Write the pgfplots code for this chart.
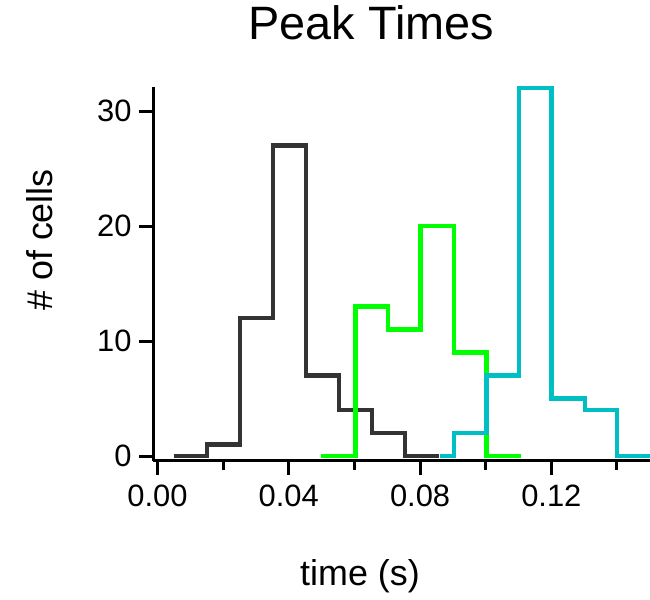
\documentclass[border=0pt]{standalone}
\usepackage{pgfplots}
\pgfplotsset{compat=1.18}
\usepackage{fontspec}
\setmainfont{Liberation Sans}
\definecolor{cdark}{HTML}{333333}
\definecolor{cgreen}{HTML}{00FF00}
\definecolor{ccyan}{HTML}{00BFC4}

\begin{document}
\begin{tikzpicture}[x=1bp,y=1bp]
\useasboundingbox (0,0) rectangle (650,600);
\begin{axis}[
    at={(153bp,139bp)}, anchor=south west,
    scale only axis, width=497bp, height=374bp,
    xmin=-0.00137, xmax=0.15006, ymin=-0.43, ymax=32.1,
    axis lines=left, axis line style={-, line width=3bp, black},
    xtick={0,0.04,0.08,0.12}, xticklabels={0.00,0.04,0.08,0.12},
    minor xtick={0.02,0.06,0.10,0.14},
    ytick={0,10,20,30},
    tick align=outside, major tick length=14bp, minor tick length=9bp,
    every tick/.style={black, line width=3bp},
    /pgf/number format/assume math mode=true,
    tick label style={font=\fontsize{31}{36}\selectfont},
    xticklabel style={yshift=-6bp},
    yticklabel style={xshift=-4bp},
    title={Peak Times},
    title style={font=\fontsize{47}{54}\selectfont, at={(rel axis cs:0.439,1.112)}, anchor=base},
    xlabel={time (s)},
    xlabel style={font=\fontsize{36}{42}\selectfont, at={(rel axis cs:0.4165,-0.3316)}, anchor=base},
    ylabel={\# of cells},
    ylabel style={font=\fontsize{36}{42}\selectfont, at={(rel axis cs:-0.2032,0.591)}, anchor=base},
    clip=false]
  % black histogram
  \addplot[const plot, cdark, line width=4.5bp, no marks] coordinates {
    (0.0050,0) (0.0151,1) (0.0252,12) (0.0352,27) (0.0453,7) (0.0553,4)
    (0.0653,2) (0.0754,0) (0.0858,0)};
  % green histogram
  \addplot[const plot, cgreen, line width=4.5bp, no marks] coordinates {
    (0.0497,0) (0.0603,13) (0.0703,11) (0.0802,20) (0.0903,9) (0.1003,0)
    (0.1107,0)};
  % cyan histogram
  \addplot[const plot, ccyan, line width=4.5bp, no marks] coordinates {
    (0.0862,0) (0.0903,2) (0.1002,7) (0.1102,32) (0.1201,5) (0.1302,4)
    (0.1400,0) (0.1505,0)};
\end{axis}
\end{tikzpicture}
\end{document}
